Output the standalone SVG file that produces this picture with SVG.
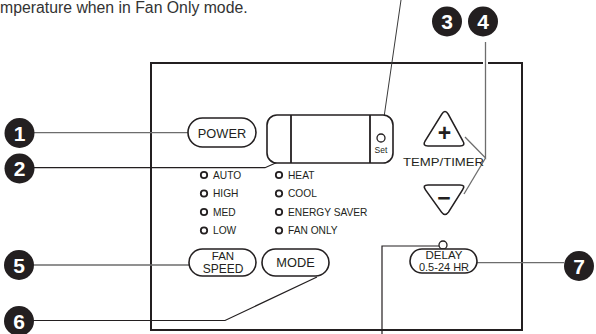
<svg xmlns="http://www.w3.org/2000/svg" width="596" height="334" viewBox="0 0 596 334">
<style>
text{font-family:"Liberation Sans",Arial,sans-serif;fill:#231f20}
.num{fill:#231f20}
.numt{fill:#fff;font-weight:bold;font-size:21px;text-anchor:middle}
.btn{fill:#fff;stroke:#231f20;stroke-width:1.6}
.bt{font-size:12.8px;text-anchor:middle}
.led{fill:#fff;stroke:#231f20;stroke-width:1.8}
.lt{font-size:10.2px}
.lg{fill:none;stroke:#6d6d6d;stroke-width:1.3}
.lb{fill:none;stroke:#231f20;stroke-width:1.2}
.ld{fill:none;stroke:#3a3a3a;stroke-width:1}
</style>
<text x="0" y="13" style="font-size:15.8px;fill:#333">mperature when in Fan Only mode.</text>
<g id="panel"><rect x="151" y="63" width="371" height="267" fill="none" stroke="#231f20" stroke-width="2"/></g>
<g id="connectors">
<line class="lg" x1="34" y1="132.7" x2="188" y2="132.7"/>
<polyline class="lb" points="34,167.7 265,167.7 307,149"/>
<line class="ld" x1="401" y1="0" x2="382" y2="131"/>
<line x1="485.5" y1="56" x2="485.5" y2="70" stroke="#fff" stroke-width="5"/>
<polyline class="lg" points="485.5,42 485.5,158 465,137"/>
<line class="lg" x1="485.5" y1="158" x2="464" y2="194"/>
<line class="lg" x1="33" y1="265" x2="189" y2="265"/>
<polyline class="lb" points="33,320.5 225,320.5 317,277"/>
<line class="lg" x1="477" y1="262.7" x2="564" y2="262.7"/>
<polyline class="lb" points="439,246 382,246 382,334"/>
</g>
<g id="callout1"><circle class="num" cx="19.5" cy="133" r="15"/><text class="numt" x="19.5" y="140.5">1</text></g>
<g id="callout2"><circle class="num" cx="19.5" cy="168.5" r="15"/><text class="numt" x="19.5" y="176">2</text></g>
<g id="callout3"><circle class="num" cx="447" cy="21.5" r="15"/><text class="numt" x="447" y="29">3</text></g>
<g id="callout4"><circle class="num" cx="483" cy="21.5" r="15"/><text class="numt" x="483" y="29">4</text></g>
<g id="callout5"><circle class="num" cx="19" cy="265" r="15"/><text class="numt" x="19" y="272.5">5</text></g>
<g id="callout6"><circle class="num" cx="19" cy="321" r="15"/><text class="numt" x="19" y="328.5">6</text></g>
<g id="callout7"><circle class="num" cx="579" cy="266" r="15"/><text class="numt" x="579" y="273.5">7</text></g>
<g id="power"><rect class="btn" x="188" y="118" width="68" height="29" rx="14.5"/><text class="bt" x="222" y="137.5">POWER</text></g>
<g id="display">
<rect x="267" y="115" width="126" height="48" rx="10" fill="#fff" stroke="#231f20" stroke-width="1.6"/>
<line x1="291" y1="115" x2="291" y2="163" stroke="#231f20" stroke-width="1.8"/>
<line x1="370" y1="115" x2="370" y2="163" stroke="#231f20" stroke-width="1.8"/>
<circle cx="381" cy="138" r="4" fill="#fff" stroke="#231f20" stroke-width="1.3"/>
<text x="381" y="153" style="font-size:8.5px;text-anchor:middle">Set</text>
</g>
<g id="leds">
<circle class="led" cx="204" cy="175" r="3.2"/><text class="lt" x="213" y="178.7">AUTO</text>
<circle class="led" cx="204" cy="193.5" r="3.2"/><text class="lt" x="213" y="197.2">HIGH</text>
<circle class="led" cx="204" cy="212" r="3.2"/><text class="lt" x="213" y="215.7">MED</text>
<circle class="led" cx="204" cy="230.5" r="3.2"/><text class="lt" x="213" y="234.2">LOW</text>
<circle class="led" cx="279" cy="175" r="3.2"/><text class="lt" x="288" y="178.7">HEAT</text>
<circle class="led" cx="279" cy="193.5" r="3.2"/><text class="lt" x="288" y="197.2">COOL</text>
<circle class="led" cx="279" cy="212" r="3.2"/><text class="lt" x="288" y="215.7">ENERGY SAVER</text>
<circle class="led" cx="279" cy="230.5" r="3.2"/><text class="lt" x="288" y="234.2">FAN ONLY</text>
</g>
<g id="up">
<path d="M441.8,114.1 Q445,109 448.2,114.1 L462.8,140.9 Q466,146 460,146 L428,146 Q422,146 425.2,140.9 Z" fill="#fff" stroke="#231f20" stroke-width="1.6"/>
<text x="444.5" y="141" style="font-size:23px;font-weight:bold;text-anchor:middle">+</text>
</g>
<g id="temp"><text x="443.5" y="166" style="font-size:11px;text-anchor:middle" textLength="81" lengthAdjust="spacingAndGlyphs">TEMP/TIMER</text></g>
<g id="down">
<path d="M428,185 L460,185 Q466,185 462.5,189.9 L448.5,212.1 Q445,217 441.5,212.1 L425.5,189.9 Q422,185 428,185 Z" fill="#fff" stroke="#231f20" stroke-width="1.6"/>
<text x="444" y="206" style="font-size:23px;font-weight:bold;text-anchor:middle">−</text>
</g>
<g id="fanspeed"><rect class="btn" x="189" y="249" width="67" height="27" rx="13.5"/><text class="bt" x="223" y="260" style="font-size:11.5px">FAN</text><text class="bt" x="223" y="273" style="font-size:12px">SPEED</text></g>
<g id="mode"><rect class="btn" x="262" y="249" width="67" height="27" rx="13.5"/><text class="bt" x="295.5" y="267">MODE</text></g>
<g id="delay">
<circle cx="443" cy="245" r="4" fill="#fff" stroke="#231f20" stroke-width="1.3"/>
<rect class="btn" x="410" y="249" width="67" height="24" rx="12"/>
<text class="bt" x="444" y="259" style="font-size:11.5px">DELAY</text>
<text class="bt" x="444" y="270.5" style="font-size:11px">0.5-24 HR</text>
</g>
</svg>
